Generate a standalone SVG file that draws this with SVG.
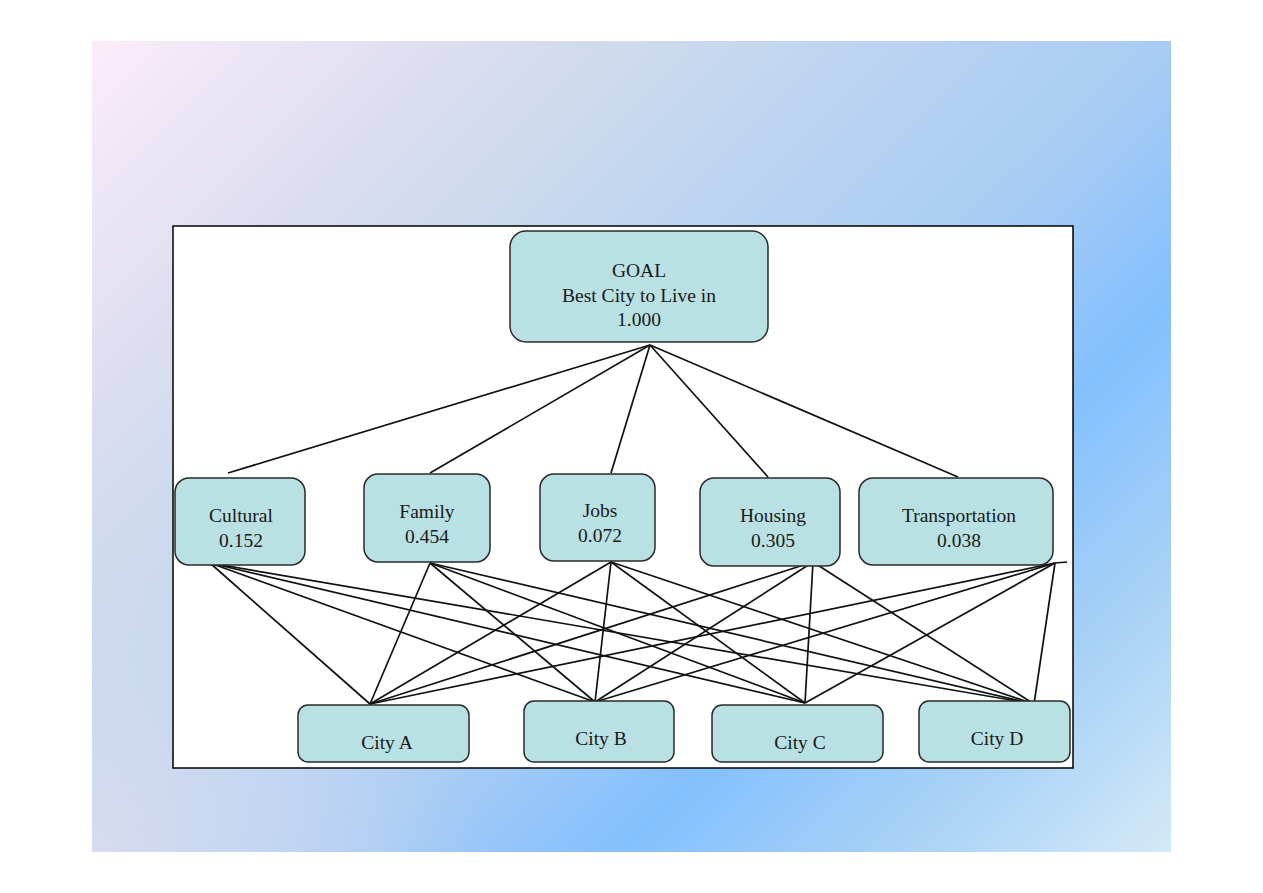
<svg xmlns="http://www.w3.org/2000/svg" width="1263" height="893" viewBox="0 0 1263 893">
<defs>
<linearGradient id="bg" gradientUnits="userSpaceOnUse" x1="92" y1="41" x2="1171" y2="1120">
<stop offset="0" stop-color="#FCECFA"/>
<stop offset="0.166" stop-color="#DCDEF0"/>
<stop offset="0.25" stop-color="#CFDAEE"/>
<stop offset="0.333" stop-color="#C0D6F0"/>
<stop offset="0.5" stop-color="#A8CCF4"/>
<stop offset="0.62" stop-color="#84C0FE"/>
<stop offset="0.75" stop-color="#A8D2F6"/>
<stop offset="0.88" stop-color="#D6EAF8"/>
<stop offset="1" stop-color="#E8F2FA"/>
</linearGradient>
<radialGradient id="bl" gradientUnits="userSpaceOnUse" cx="92" cy="852" r="380">
<stop offset="0" stop-color="#DADCF0" stop-opacity="0.9"/>
<stop offset="0.5" stop-color="#D4DCF0" stop-opacity="0.5"/>
<stop offset="1" stop-color="#D0DAF0" stop-opacity="0"/>
</radialGradient>
<style>
.node rect{fill:#B9E0E3;stroke:#2a2a2a;stroke-width:1.5}
.node text{font-family:"Liberation Serif","Times New Roman",serif;font-size:19.5px;fill:#1a1a1a;text-anchor:middle}
.edges line{stroke:#111;stroke-width:1.7}
</style>
</defs>
<rect x="0" y="0" width="1263" height="893" fill="#fff"/>
<rect x="92" y="41" width="1079" height="811" fill="url(#bg)"/>
<rect x="92" y="41" width="1079" height="811" fill="url(#bl)"/>
<rect x="173" y="226" width="900" height="542" fill="#fff" stroke="#000" stroke-width="1.5"/>

<g class="edges">
<line x1="650" y1="345" x2="228" y2="473"/>
<line x1="650" y1="345" x2="430" y2="473"/>
<line x1="650" y1="345" x2="611" y2="473"/>
<line x1="650" y1="345" x2="768" y2="477"/>
<line x1="650" y1="345" x2="958" y2="477"/>

<line x1="197" y1="561" x2="210" y2="563"/>
<line x1="210" y1="563" x2="370" y2="704"/>
<line x1="210" y1="563" x2="595" y2="702"/>
<line x1="210" y1="563" x2="805" y2="703"/>
<line x1="210" y1="563" x2="1034" y2="704"/>

<line x1="430" y1="563" x2="370" y2="704"/>
<line x1="430" y1="563" x2="595" y2="702"/>
<line x1="430" y1="563" x2="805" y2="703"/>
<line x1="430" y1="563" x2="1034" y2="704"/>

<line x1="611" y1="562" x2="370" y2="704"/>
<line x1="611" y1="562" x2="595" y2="702"/>
<line x1="611" y1="562" x2="805" y2="703"/>
<line x1="611" y1="562" x2="1034" y2="704"/>

<line x1="813" y1="562" x2="370" y2="704"/>
<line x1="813" y1="562" x2="595" y2="702"/>
<line x1="813" y1="562" x2="805" y2="703"/>
<line x1="813" y1="562" x2="1034" y2="704"/>

<line x1="1055" y1="563" x2="370" y2="704"/>
<line x1="1055" y1="563" x2="595" y2="702"/>
<line x1="1055" y1="563" x2="805" y2="703"/>
<line x1="1055" y1="563" x2="1034" y2="704"/>
<line x1="1055" y1="563" x2="1067" y2="562"/>
</g>

<g id="goal" class="node">
<rect x="510" y="231" width="258" height="111" rx="16"/>
<text x="639" y="277">GOAL</text>
<text x="639" y="302">Best City to Live in</text>
<text x="639" y="326">1.000</text>
</g>
<g id="cultural" class="node">
<rect x="175" y="478" width="130" height="87" rx="14"/>
<text x="241" y="522">Cultural</text>
<text x="241" y="547">0.152</text>
</g>
<g id="family" class="node">
<rect x="364" y="474" width="126" height="88" rx="14"/>
<text x="427" y="518">Family</text>
<text x="427" y="543">0.454</text>
</g>
<g id="jobs" class="node">
<rect x="540" y="474" width="115" height="87" rx="14"/>
<text x="600" y="517">Jobs</text>
<text x="600" y="542">0.072</text>
</g>
<g id="housing" class="node">
<rect x="700" y="478" width="140" height="88" rx="14"/>
<text x="773" y="522">Housing</text>
<text x="773" y="547">0.305</text>
</g>
<g id="transportation" class="node">
<rect x="859" y="478" width="194" height="87" rx="14"/>
<text x="959" y="522">Transportation</text>
<text x="959" y="547">0.038</text>
</g>
<g id="cityA" class="node">
<rect x="298" y="705" width="171" height="57" rx="10"/>
<text x="387" y="749">City A</text>
</g>
<g id="cityB" class="node">
<rect x="524" y="701" width="150" height="61" rx="10"/>
<text x="601" y="745">City B</text>
</g>
<g id="cityC" class="node">
<rect x="712" y="705" width="171" height="57" rx="10"/>
<text x="800" y="749">City C</text>
</g>
<g id="cityD" class="node">
<rect x="919" y="701" width="151" height="61" rx="10"/>
<text x="997" y="745">City D</text>
</g>
</svg>
